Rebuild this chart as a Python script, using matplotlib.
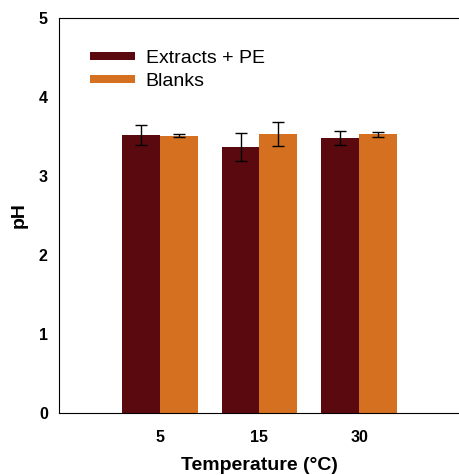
import matplotlib.pyplot as plt
import numpy as np

plt.rcParams['font.family'] = ['Liberation Sans', 'DejaVu Sans']

temps = ["5", "15", "30"]
extracts = [3.52, 3.37, 3.48]
extracts_err = [0.13, 0.18, 0.09]
blanks = [3.51, 3.53, 3.53]
blanks_err = [0.02, 0.155, 0.03]

fig = plt.figure(figsize=(4.59, 4.75), dpi=100)
ax = fig.add_axes([0.1285, 0.1305, 0.8715, 0.8315])

x = np.arange(len(temps))
w = 0.38
ax.bar(x - w / 2, extracts, w, color="#5a0a0e", label="Extracts + PE",
       yerr=extracts_err, capsize=4, error_kw=dict(elinewidth=1, capthick=1))
ax.bar(x + w / 2, blanks, w, color="#d47020", label="Blanks",
       yerr=blanks_err, capsize=4, error_kw=dict(elinewidth=1, capthick=1))

ax.set_xlim(-1.01, 3.0)
ax.set_ylim(0, 5)
ax.set_xticks(x)
ax.set_xticklabels(temps)
ax.set_yticks([0, 1, 2, 3, 4, 5])
ax.tick_params(length=0, labelsize=11.5)
ax.tick_params(axis="y", pad=8)
ax.tick_params(axis="x", pad=12)
for lab in ax.get_xticklabels() + ax.get_yticklabels():
    lab.set_fontweight("bold")
ax.spines["right"].set_visible(False)

ax.set_xlabel("Temperature (°C)", fontsize=14, fontweight="bold", labelpad=9)
ax.set_ylabel("pH", fontsize=14, fontweight="bold", labelpad=8)

leg = ax.legend(loc="upper left", bbox_to_anchor=(0.0775, 0.92), frameon=False,
                fontsize=14, handlelength=2.3, handleheight=0.26,
                labelspacing=0.35, handletextpad=0.57, borderpad=0,
                borderaxespad=0)

plt.savefig("out.png", dpi=100)
